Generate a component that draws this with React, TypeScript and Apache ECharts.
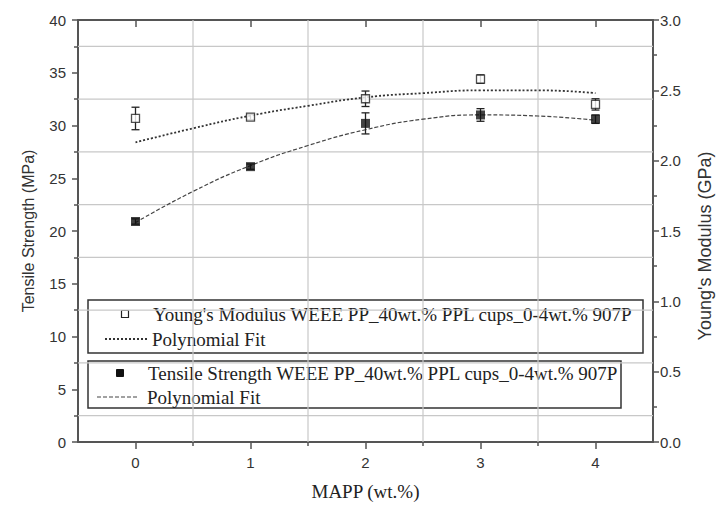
import React, { useEffect, useRef } from "react";
import * as echarts from "echarts";

const xValues = [0, 1, 2, 3, 4];
const youngModulus = [2.3, 2.31, 2.44, 2.58, 2.4];
const youngErr = [0.08, 0.02, 0.055, 0.03, 0.04];
const tensileStrength = [20.9, 26.1, 30.2, 31.0, 30.6];
const tensileErr = [0.25, 0.25, 1.0, 0.6, 0.4];
const fitX = [0, 0.5, 1, 1.5, 2, 2.5, 3, 3.5, 4];
const youngFit = [2.13, 2.23, 2.32, 2.39, 2.45, 2.48, 2.5, 2.5, 2.48];
const tensileFit = [20.8, 23.75, 26.2, 28.1, 29.6, 30.6, 31.0, 30.9, 30.5];
const xMajorTicks = [0, 1, 2, 3, 4];
const xMinorTicks = [0.5, 1.5, 2.5, 3.5];
const yMinorGrid = [2.5, 7.5, 12.5, 17.5, 22.5, 27.5, 32.5, 37.5];
const legendYoung = "Young's Modulus WEEE PP_40wt.% PPL cups_0-4wt.% 907P";
const legendTensile = "Tensile Strength WEEE PP_40wt.% PPL cups_0-4wt.% 907P";
const legendFit = "Polynomial Fit";

const SANS = "Liberation Sans";
const SERIF = "Liberation Serif";
const GRID_COLOR = "#c8c8c8";

function errorBarRender(params: any, api: any) {
  const x = api.value(0);
  const y = api.value(1);
  const e = api.value(2);
  const top = api.coord([x, y + e]);
  const bot = api.coord([x, y - e]);
  const hw = 4;
  const style = { stroke: "#222", lineWidth: 1.3 };
  return {
    type: "group",
    children: [
      { type: "line", shape: { x1: top[0], y1: top[1], x2: bot[0], y2: bot[1] }, style },
      { type: "line", shape: { x1: top[0] - hw, y1: top[1], x2: top[0] + hw, y2: top[1] }, style },
      { type: "line", shape: { x1: bot[0] - hw, y1: bot[1], x2: bot[0] + hw, y2: bot[1] }, style },
    ],
  };
}

export default function App() {
  const ref = useRef<HTMLDivElement>(null);
  useEffect(() => {
    if (!ref.current) return;
    const chart = echarts.init(ref.current, null, { renderer: "svg" });
    const axisLineStyle = { color: "#555", width: 2 };
    const labelStyle = { color: "#333", fontSize: 15, fontFamily: SANS };
    const xBase = { type: "value", min: -0.5, max: 4.5, gridIndex: 0 };
    chart.setOption({
      animation: false,
      backgroundColor: "#fff",
      grid: { left: 78, top: 20, right: 72, bottom: 64, containLabel: false },
      xAxis: [
        {
          ...xBase,
          position: "bottom",
          axisLine: { show: true, onZero: false, lineStyle: axisLineStyle },
          axisTick: { show: true, customValues: xMinorTicks, length: 4, lineStyle: { color: "#555", width: 1.5 } },
          axisLabel: { show: false },
          splitLine: { show: false },
        },
        {
          ...xBase,
          position: "bottom",
          axisLine: { show: false, onZero: false },
          axisTick: { show: true, customValues: xMajorTicks, length: 7, lineStyle: { color: "#555", width: 1.5 } },
          axisLabel: { show: true, customValues: xMajorTicks, margin: 13, ...labelStyle },
          splitLine: { show: false },
          name: "MAPP (wt.%)",
          nameLocation: "middle",
          nameGap: 40,
          nameTextStyle: { fontFamily: SERIF, fontSize: 19, color: "#222" },
        },
        {
          ...xBase,
          position: "top",
          axisLine: { show: true, onZero: false, lineStyle: axisLineStyle },
          axisTick: { show: true, inside: true, customValues: xMajorTicks, length: 7, lineStyle: { color: "#555", width: 1.5 } },
          axisLabel: { show: false },
          splitLine: { show: false },
        },
      ],
      yAxis: [
        {
          type: "value",
          position: "left",
          min: 0,
          max: 40,
          interval: 5,
          axisLine: { show: true, onZero: false, lineStyle: axisLineStyle },
          axisTick: { show: true, length: 6, lineStyle: { color: "#555", width: 1.5 } },
          minorTick: { show: true, splitNumber: 2, length: 4, lineStyle: { color: "#555", width: 1.5 } },
          axisLabel: { margin: 12, ...labelStyle },
          splitLine: { show: false },
          minorSplitLine: { show: false },
          name: "Tensile Strength (MPa)",
          nameLocation: "middle",
          nameRotate: 90,
          nameGap: 42,
          nameTextStyle: { fontFamily: SANS, fontSize: 16, color: "#333" },
        },
        {
          type: "value",
          position: "right",
          min: 0,
          max: 3,
          interval: 0.5,
          axisLine: { show: true, onZero: false, lineStyle: axisLineStyle },
          axisTick: { show: true, length: 6, lineStyle: { color: "#555", width: 1.5 } },
          minorTick: { show: true, splitNumber: 2, length: 4, lineStyle: { color: "#555", width: 1.5 } },
          axisLabel: { margin: 7, ...labelStyle, formatter: (v: number) => v.toFixed(1) },
          splitLine: { show: false },
          minorSplitLine: { show: false },
        },
      ],
      graphic: [
        {
          type: "text",
          x: 705,
          y: 246,
          rotation: Math.PI / 2,
          style: {
            text: "Young's Modulus (GPa)",
            font: `18px "${SANS}"`,
            fill: "#333",
            textAlign: "center",
            textVerticalAlign: "middle",
          },
        },
        {
          type: "group",
          z: 10,
          children: [
            { type: "rect", shape: { x: 88, y: 300, width: 555, height: 53 }, style: { fill: "#fff", stroke: "#333", lineWidth: 1.5 } },
            { type: "rect", shape: { x: 121.5, y: 310.5, width: 7, height: 7 }, style: { fill: "#fff", stroke: "#222", lineWidth: 1.2 } },
            { type: "text", x: 153, y: 314, style: { text: legendYoung, font: `19px "${SERIF}"`, fill: "#222", textVerticalAlign: "middle" } },
            { type: "line", shape: { x1: 105, y1: 339, x2: 147, y2: 339 }, style: { stroke: "#333", lineWidth: 1.8, lineDash: [2, 2] } },
            { type: "text", x: 152, y: 339, style: { text: legendFit, font: `19px "${SERIF}"`, fill: "#222", textVerticalAlign: "middle" } },
            { type: "rect", shape: { x: 88, y: 361, width: 533, height: 47 }, style: { fill: "#fff", stroke: "#333", lineWidth: 1.5 } },
            { type: "rect", shape: { x: 116.5, y: 369.5, width: 7, height: 7 }, style: { fill: "#111", stroke: "#111", lineWidth: 1 } },
            { type: "text", x: 148, y: 373, style: { text: legendTensile, font: `19px "${SERIF}"`, fill: "#222", textVerticalAlign: "middle" } },
            { type: "line", shape: { x1: 97, y1: 397, x2: 137, y2: 397 }, style: { stroke: "#444", lineWidth: 1.1, lineDash: [4, 2] } },
            { type: "text", x: 147, y: 397, style: { text: legendFit, font: `19px "${SERIF}"`, fill: "#222", textVerticalAlign: "middle" } },
          ],
        },
      ],
      series: [
        {
          name: "Vertical grid",
          type: "custom",
          xAxisIndex: 0,
          yAxisIndex: 0,
          silent: true,
          z: 1,
          renderItem: (params: any, api: any) => {
            const v = api.value(0);
            const a = api.coord([v, 0]);
            const b = api.coord([v, 40]);
            return { type: "line", shape: { x1: a[0], y1: a[1], x2: b[0], y2: b[1] }, style: { stroke: GRID_COLOR, lineWidth: 1.2 } };
          },
          encode: { x: 0, y: 1 },
          data: xMinorTicks.map((v) => [v, 20]),
        },
        {
          name: "Horizontal grid",
          type: "custom",
          xAxisIndex: 0,
          yAxisIndex: 0,
          silent: true,
          z: 1,
          renderItem: (params: any, api: any) => {
            const v = api.value(1);
            const a = api.coord([-0.5, v]);
            const b = api.coord([4.5, v]);
            return { type: "line", shape: { x1: a[0], y1: a[1], x2: b[0], y2: b[1] }, style: { stroke: GRID_COLOR, lineWidth: 1.2 } };
          },
          encode: { x: 0, y: 1 },
          data: yMinorGrid.map((v) => [2, v]),
        },
        {
          name: "Young fit",
          type: "line",
          xAxisIndex: 0,
          yAxisIndex: 1,
          smooth: true,
          showSymbol: false,
          data: fitX.map((x, i) => [x, youngFit[i]]),
          lineStyle: { color: "#333", width: 1.8, type: [2, 2] },
          z: 2,
        },
        {
          name: "Tensile fit",
          type: "line",
          xAxisIndex: 0,
          yAxisIndex: 0,
          smooth: true,
          showSymbol: false,
          data: fitX.map((x, i) => [x, tensileFit[i]]),
          lineStyle: { color: "#444", width: 1.2, type: [4, 2] },
          z: 2,
        },
        {
          name: "Young err",
          type: "custom",
          xAxisIndex: 0,
          yAxisIndex: 1,
          renderItem: errorBarRender,
          encode: { x: 0, y: 1 },
          data: xValues.map((x, i) => [x, youngModulus[i], youngErr[i]]),
          z: 3,
        },
        {
          name: "Tensile err",
          type: "custom",
          xAxisIndex: 0,
          yAxisIndex: 0,
          renderItem: errorBarRender,
          encode: { x: 0, y: 1 },
          data: xValues.map((x, i) => [x, tensileStrength[i], tensileErr[i]]),
          z: 3,
        },
        {
          name: "Young's Modulus",
          type: "scatter",
          xAxisIndex: 0,
          yAxisIndex: 1,
          symbol: "rect",
          symbolSize: 8,
          data: xValues.map((x, i) => [x, youngModulus[i]]),
          itemStyle: { color: "#fff", borderColor: "#222", borderWidth: 1.3 },
          z: 4,
        },
        {
          name: "Tensile Strength",
          type: "scatter",
          xAxisIndex: 0,
          yAxisIndex: 0,
          symbol: "rect",
          symbolSize: 9,
          data: xValues.map((x, i) => [x, tensileStrength[i]]),
          itemStyle: { color: "#111" },
          z: 4,
        },
      ],
    });
    return () => chart.dispose();
  }, []);
  return <div ref={ref} style={{ position: "fixed", left: 0, top: 0, width: 725, height: 506 }} />;
}
